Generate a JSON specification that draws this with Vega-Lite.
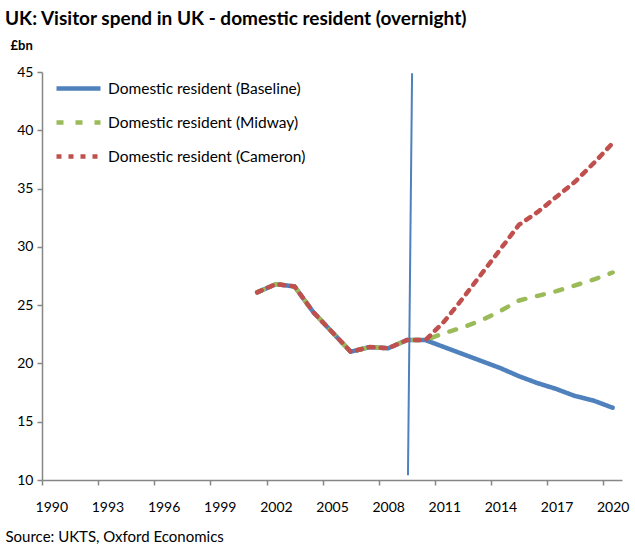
{
  "$schema": "https://vega.github.io/schema/vega-lite/v6.json",
  "width": 580,
  "height": 408,
  "autosize": "none",
  "padding": {"left": 42, "top": 72, "right": 13, "bottom": 66},
  "background": "white",
  "config": {
    "view": {"stroke": null},
    "font": "Lato",
    "title": {"font": "Lato", "fontSize": 19, "fontWeight": "bold", "color": "#000000"}
  },
  "title": {"text": "UK: Visitor spend in UK - domestic resident (overnight)", "anchor": "start", "frame": "group", "dx": -37, "offset": 10},
  "datasets": {
    "series": [
      {"year": 2001, "value": 26.1, "series": "Domestic resident (Baseline)"},
      {"year": 2002, "value": 26.8, "series": "Domestic resident (Baseline)"},
      {"year": 2003, "value": 26.6, "series": "Domestic resident (Baseline)"},
      {"year": 2004, "value": 24.4, "series": "Domestic resident (Baseline)"},
      {"year": 2005, "value": 22.7, "series": "Domestic resident (Baseline)"},
      {"year": 2006, "value": 21.0, "series": "Domestic resident (Baseline)"},
      {"year": 2007, "value": 21.4, "series": "Domestic resident (Baseline)"},
      {"year": 2008, "value": 21.3, "series": "Domestic resident (Baseline)"},
      {"year": 2009, "value": 22.0, "series": "Domestic resident (Baseline)"},
      {"year": 2010, "value": 22.0, "series": "Domestic resident (Baseline)"},
      {"year": 2011, "value": 21.4, "series": "Domestic resident (Baseline)"},
      {"year": 2012, "value": 20.8, "series": "Domestic resident (Baseline)"},
      {"year": 2013, "value": 20.2, "series": "Domestic resident (Baseline)"},
      {"year": 2014, "value": 19.6, "series": "Domestic resident (Baseline)"},
      {"year": 2015, "value": 18.9, "series": "Domestic resident (Baseline)"},
      {"year": 2016, "value": 18.3, "series": "Domestic resident (Baseline)"},
      {"year": 2017, "value": 17.8, "series": "Domestic resident (Baseline)"},
      {"year": 2018, "value": 17.2, "series": "Domestic resident (Baseline)"},
      {"year": 2019, "value": 16.8, "series": "Domestic resident (Baseline)"},
      {"year": 2020, "value": 16.2, "series": "Domestic resident (Baseline)"},
      {"year": 2001, "value": 26.1, "series": "Domestic resident (Midway)"},
      {"year": 2002, "value": 26.8, "series": "Domestic resident (Midway)"},
      {"year": 2003, "value": 26.6, "series": "Domestic resident (Midway)"},
      {"year": 2004, "value": 24.4, "series": "Domestic resident (Midway)"},
      {"year": 2005, "value": 22.7, "series": "Domestic resident (Midway)"},
      {"year": 2006, "value": 21.0, "series": "Domestic resident (Midway)"},
      {"year": 2007, "value": 21.4, "series": "Domestic resident (Midway)"},
      {"year": 2008, "value": 21.3, "series": "Domestic resident (Midway)"},
      {"year": 2009, "value": 22.0, "series": "Domestic resident (Midway)"},
      {"year": 2010, "value": 22.0, "series": "Domestic resident (Midway)"},
      {"year": 2011, "value": 22.6, "series": "Domestic resident (Midway)"},
      {"year": 2012, "value": 23.1, "series": "Domestic resident (Midway)"},
      {"year": 2013, "value": 23.7, "series": "Domestic resident (Midway)"},
      {"year": 2014, "value": 24.5, "series": "Domestic resident (Midway)"},
      {"year": 2015, "value": 25.4, "series": "Domestic resident (Midway)"},
      {"year": 2016, "value": 25.8, "series": "Domestic resident (Midway)"},
      {"year": 2017, "value": 26.2, "series": "Domestic resident (Midway)"},
      {"year": 2018, "value": 26.7, "series": "Domestic resident (Midway)"},
      {"year": 2019, "value": 27.2, "series": "Domestic resident (Midway)"},
      {"year": 2020, "value": 27.8, "series": "Domestic resident (Midway)"},
      {"year": 2001, "value": 26.1, "series": "Domestic resident (Cameron)"},
      {"year": 2002, "value": 26.8, "series": "Domestic resident (Cameron)"},
      {"year": 2003, "value": 26.6, "series": "Domestic resident (Cameron)"},
      {"year": 2004, "value": 24.4, "series": "Domestic resident (Cameron)"},
      {"year": 2005, "value": 22.7, "series": "Domestic resident (Cameron)"},
      {"year": 2006, "value": 21.0, "series": "Domestic resident (Cameron)"},
      {"year": 2007, "value": 21.4, "series": "Domestic resident (Cameron)"},
      {"year": 2008, "value": 21.3, "series": "Domestic resident (Cameron)"},
      {"year": 2009, "value": 22.0, "series": "Domestic resident (Cameron)"},
      {"year": 2010, "value": 22.0, "series": "Domestic resident (Cameron)"},
      {"year": 2011, "value": 23.6, "series": "Domestic resident (Cameron)"},
      {"year": 2012, "value": 25.6, "series": "Domestic resident (Cameron)"},
      {"year": 2013, "value": 27.7, "series": "Domestic resident (Cameron)"},
      {"year": 2014, "value": 29.8, "series": "Domestic resident (Cameron)"},
      {"year": 2015, "value": 31.9, "series": "Domestic resident (Cameron)"},
      {"year": 2016, "value": 33.0, "series": "Domestic resident (Cameron)"},
      {"year": 2017, "value": 34.3, "series": "Domestic resident (Cameron)"},
      {"year": 2018, "value": 35.6, "series": "Domestic resident (Cameron)"},
      {"year": 2019, "value": 37.2, "series": "Domestic resident (Cameron)"},
      {"year": 2020, "value": 38.9, "series": "Domestic resident (Cameron)"}
    ],
    "marker": [
      {"year": 2009.06, "value": 10.4},
      {"year": 2009.28, "value": 44.9}
    ]
  },
  "encoding": {
    "x": {
      "field": "year", "type": "quantitative",
      "scale": {"domain": [1989.5, 2020.5], "nice": false, "zero": false},
      "axis": {
        "values": [1990, 1993, 1996, 1999, 2002, 2005, 2008, 2011, 2014, 2017, 2020],
        "format": "d", "grid": false,
        "domainColor": "#868686", "domainWidth": 1.5,
        "tickColor": "#868686", "tickWidth": 1.5, "tickSize": 5,
        "tickOffset": -9.35, "labelOffset": 9.35,
        "labelFont": "Lato", "labelFontSize": 14, "labelColor": "#000000", "labelPadding": 15,
        "title": "Source: UKTS, Oxford Economics",
        "titleFont": "Lato", "titleFontSize": 15, "titleFontWeight": "normal", "titleColor": "#000000",
        "titleAnchor": "start", "titleAlign": "left", "titleBaseline": "alphabetic",
        "titleX": -37, "titleY": 61
      }
    },
    "y": {
      "field": "value", "type": "quantitative",
      "scale": {"domain": [10, 45], "nice": false, "zero": false},
      "axis": {
        "values": [10, 15, 20, 25, 30, 35, 40, 45],
        "grid": false,
        "domainColor": "#868686", "domainWidth": 1.5,
        "tickColor": "#868686", "tickWidth": 1.5, "tickSize": 5,
        "labelFont": "Lato", "labelFontSize": 14, "labelColor": "#000000", "labelPadding": 4,
        "title": "£bn", "titleAngle": 0, "titleAlign": "left", "titleBaseline": "alphabetic",
        "titleX": -32, "titleY": -23,
        "titleFont": "Lato", "titleFontSize": 13, "titleFontWeight": "bold", "titleColor": "#000000"
      }
    }
  },
  "layer": [
    {
      "data": {"name": "marker"},
      "mark": {"type": "line", "color": "#4F81BD", "strokeWidth": 2},
      "encoding": {}
    },
    {
      "data": {"name": "series"},
      "transform": [{"filter": "datum.series === 'Domestic resident (Baseline)'"}],
      "mark": {"type": "line", "strokeWidth": 4.5, "strokeCap": "round", "strokeJoin": "round"},
      "encoding": {
        "color": {"field": "series", "type": "nominal",
          "scale": {"domain": ["Domestic resident (Baseline)", "Domestic resident (Midway)", "Domestic resident (Cameron)"], "range": ["#4F81BD", "#9BBB59", "#C0504D"]},
          "legend": {"title": null, "orient": "none", "legendX": 12, "legendY": -8, "symbolType": "stroke", "symbolSize": 1936, "symbolStrokeWidth": 4.5, "labelFont": "Lato", "labelFontSize": 15.5, "labelColor": "#000000", "labelOffset": 5, "labelLimit": 0, "rowPadding": 0}},
        "strokeDash": {"field": "series", "type": "nominal",
          "scale": {"domain": ["Domestic resident (Baseline)", "Domestic resident (Midway)", "Domestic resident (Cameron)"], "range": [[1, 0], [7, 12], [5, 7]]},
          "legend": {"title": null, "orient": "none", "legendX": 12, "legendY": -8, "symbolType": "stroke", "symbolSize": 1936, "symbolStrokeWidth": 4.5, "labelFont": "Lato", "labelFontSize": 15.5, "labelColor": "#000000", "labelOffset": 5, "labelLimit": 0, "rowPadding": 0}}
      }
    },
    {
      "data": {"name": "series"},
      "transform": [{"filter": "datum.series === 'Domestic resident (Midway)'"}],
      "mark": {"type": "line", "strokeWidth": 4.5, "strokeCap": "round", "strokeJoin": "round"},
      "encoding": {
        "color": {"field": "series", "type": "nominal"},
        "strokeDash": {"field": "series", "type": "nominal"}
      }
    },
    {
      "data": {"name": "series"},
      "transform": [{"filter": "datum.series === 'Domestic resident (Cameron)'"}],
      "mark": {"type": "line", "strokeWidth": 4.5, "strokeCap": "round", "strokeJoin": "round"},
      "encoding": {
        "color": {"field": "series", "type": "nominal"},
        "strokeDash": {"field": "series", "type": "nominal"}
      }
    }
  ]
}
